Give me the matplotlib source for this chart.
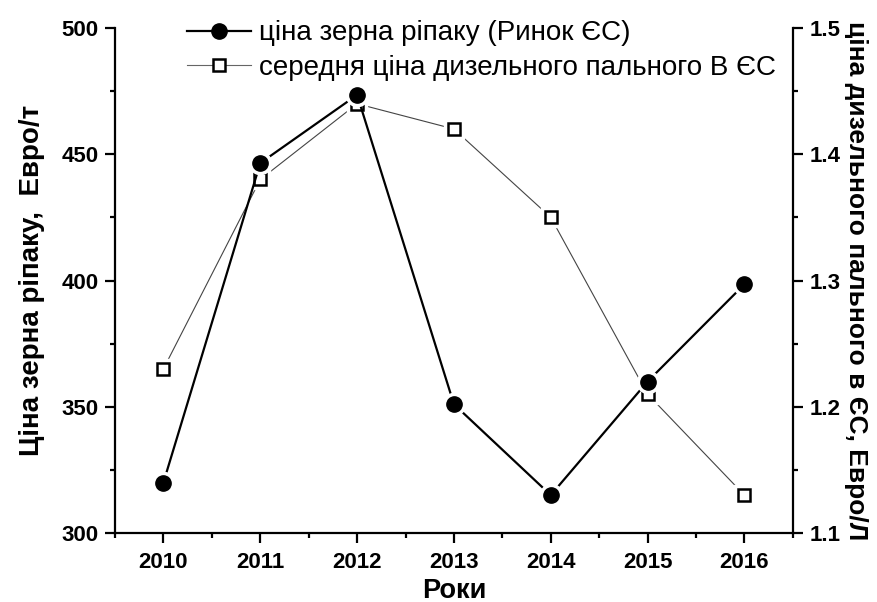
import matplotlib
matplotlib.use("Agg")
import matplotlib.pyplot as plt
from matplotlib.ticker import MultipleLocator
from matplotlib.lines import Line2D

plt.rcParams['font.family'] = ['Liberation Sans', 'DejaVu Sans']

years = [2010, 2011, 2012, 2013, 2014, 2015, 2016]
rapeseed = [320, 446.5, 473.5, 351, 315, 360, 398.5]
diesel = [1.23, 1.38, 1.44, 1.42, 1.35, 1.21, 1.13]

label_rape = "ціна зерна ріпаку (Ринок ЄС)"
label_diesel = "середня ціна дизельного пального В ЄС"

fig = plt.figure(figsize=(8.78, 6.02), dpi=100)
ax = fig.add_axes([0.131, 0.1146, 0.772, 0.8389])
ax2 = ax.twinx()

# rapeseed (left)
ax.plot(years, rapeseed, color='black', lw=1.6, zorder=2)
ax.plot(years, rapeseed, ls='none', marker='o', ms=16, color='white', zorder=3)
ax.plot(years, rapeseed, ls='none', marker='o', ms=11, color='black', zorder=4)

# diesel (right)
ax2.plot(years, diesel, color='#444444', lw=0.8, zorder=2)
ax2.plot(years, diesel, ls='none', marker='s', ms=14, color='white', zorder=3)
ax2.plot(years, diesel, ls='none', marker='s', ms=9, mfc='white', mec='black', mew=1.8, zorder=4)

ax.set_xlim(2009.5, 2016.5)
ax.set_ylim(300, 500)
ax2.set_ylim(1.1, 1.5)

ax.xaxis.set_major_locator(MultipleLocator(1))
ax.xaxis.set_minor_locator(MultipleLocator(0.5))
ax.yaxis.set_major_locator(MultipleLocator(50))
ax.yaxis.set_minor_locator(MultipleLocator(25))
ax2.yaxis.set_major_locator(MultipleLocator(0.1))
ax2.yaxis.set_minor_locator(MultipleLocator(0.05))

for a in (ax, ax2):
    a.spines['top'].set_visible(False)
    for s in a.spines.values():
        s.set_linewidth(1.6)
    a.tick_params(which='major', direction='out', length=7, width=1.6, labelsize=16, pad=5)
    a.tick_params(which='minor', direction='out', length=3.8, width=1.6)
    for lab in a.get_xticklabels() + a.get_yticklabels():
        lab.set_fontweight('bold')
ax.tick_params(axis='x', which='major', pad=7)
ax2.spines['left'].set_visible(False)
ax2.spines['bottom'].set_visible(False)
ax.spines['right'].set_visible(False)

ax.set_xlabel("Роки", fontsize=19.5, fontweight='bold', labelpad=3)
ax.set_ylabel("Ціна зерна ріпаку,  Евро/т", fontsize=20, fontweight='bold', labelpad=12)
ax2.set_ylabel("ціна дизельного пального в ЄС, Евро/Л", fontsize=19, fontweight='bold',
               rotation=-90, labelpad=20)

ax.set_zorder(ax2.get_zorder() + 1)
ax.patch.set_visible(False)

h1 = Line2D([], [], color='black', lw=1.6, marker='o', ms=11)
h2 = Line2D([], [], color='#666666', lw=0.8, marker='s', ms=9, mfc='white', mec='black', mew=1.8)
leg = fig.legend([h1, h2], [label_rape, label_diesel], loc='upper left',
                 bbox_to_anchor=(0.213, 0.966), frameon=False, fontsize=20,
                 borderpad=0, borderaxespad=0,
                 handlelength=2.3, handletextpad=0.3, labelspacing=0.3)

fig.savefig("out.png", dpi=100)
